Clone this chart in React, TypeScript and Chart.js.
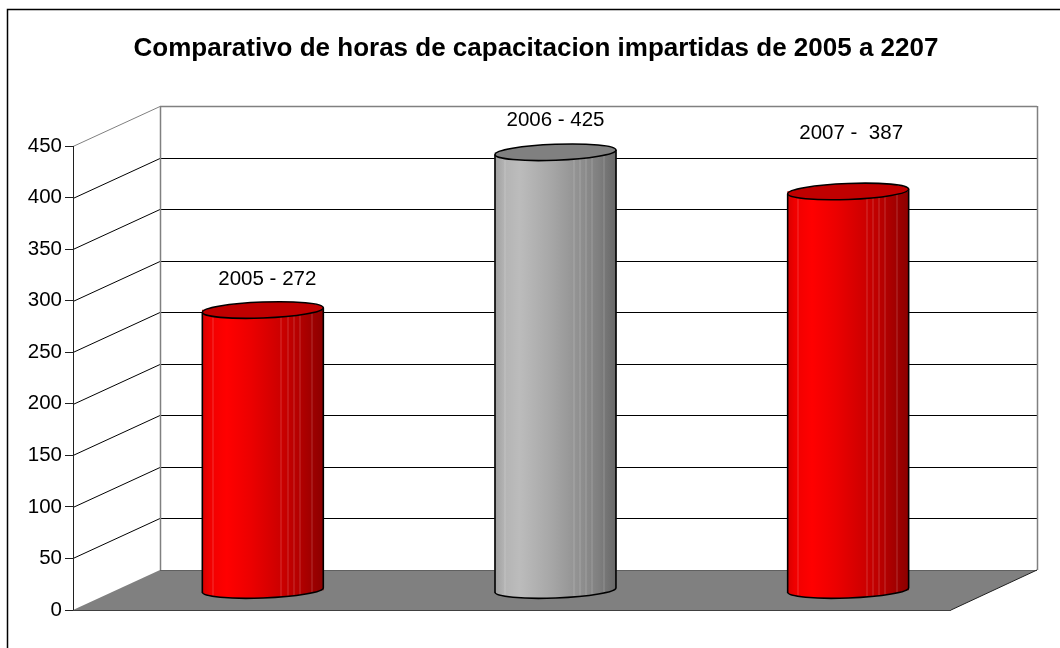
import React, { useEffect, useRef } from "react";
import { Chart, registerables } from "chart.js";

Chart.register(...registerables);

const categories = ["2005", "2006", "2007"];
const horas = [272, 425, 387];
const dataLabels = ["2005 - 272", "2006 - 425", "2007 -  387"];
const yTicksMax = 450;
const yTicksStep = 50;
const titleText = "Comparativo de horas de capacitacion impartidas de 2005 a 2207";

const FONT = "'Liberation Sans', Arial, sans-serif";
const DEPTH_X = 87;
const DEPTH_Y = -40;
const MID_X = DEPTH_X / 2;
const MID_Y = -19.5;
const BAR_W = 121;
const RY = 8;
const TILT = (-2.2 * Math.PI) / 180;
const FONT_SIZE = 20.5;
const TITLE_SIZE = 26;
const LABEL_SHIFT = [
  [4.5, -31],
  [0, -31.5],
  [3, -58],
];

const redRamp: [number, string][] = [
  [0, "#d80000"], [0.06, "#f00000"], [0.2, "#ff0000"], [0.4, "#ec0000"],
  [0.65, "#cc0000"], [0.8, "#b40000"], [1, "#8c0000"],
];
const grayRamp: [number, string][] = [
  [0, "#a0a0a0"], [0.08, "#b4b4b4"], [0.2, "#bcbcbc"], [0.45, "#a8a8a8"],
  [0.7, "#909090"], [0.85, "#808080"], [1, "#686868"],
];
const ramps = [redRamp, grayRamp, redRamp];
const capColors = ["#c00000", "#808080", "#c00000"];
const stripes = [0.08, 0.65, 0.7, 0.75, 0.8, 0.9];

function fillFor(ctx: CanvasRenderingContext2D, x: number, i: number) {
  const g = ctx.createLinearGradient(x - BAR_W / 2, 0, x + BAR_W / 2, 0);
  ramps[i].forEach(([p, c]) => g.addColorStop(p, c));
  return g;
}

const cylinders = {
  id: "cylinders",
  beforeDraw(chart: any) {
    const { ctx, width, height } = chart;
    ctx.save();
    ctx.strokeStyle = "#000";
    ctx.lineWidth = 1.5;
    ctx.beginPath();
    ctx.moveTo(7.5, height);
    ctx.lineTo(7.5, 9.5);
    ctx.lineTo(width, 9.5);
    ctx.stroke();
    ctx.restore();
  },
  beforeDatasetsDraw(chart: any) {
    const { ctx, chartArea: a, scales } = chart;
    const y = scales.y;
    const y0 = y.getPixelForValue(0);
    const yTop = y.getPixelForValue(yTicksMax);
    ctx.save();
    const seg = (x1: number, y1: number, x2: number, y2: number, c: string, w = 1) => {
      ctx.strokeStyle = c;
      ctx.lineWidth = w;
      ctx.beginPath();
      ctx.moveTo(x1, y1);
      ctx.lineTo(x2, y2);
      ctx.stroke();
    };
    // back wall + side wall
    const bl = a.left + DEPTH_X;
    const br = a.right + DEPTH_X - 1;
    for (let v = yTicksStep; v <= yTicksMax; v += yTicksStep) {
      const py = Math.round(y.getPixelForValue(v)) + 0.5;
      const top = v === yTicksMax;
      const c = top ? "#808080" : "#000";
      const by = py + DEPTH_Y;
      seg(a.left, py, bl, by, c);
      seg(bl, by, br, by, c, top ? 1.5 : 1);
    }
    const wb = y0 + DEPTH_Y;
    const wt = Math.round(yTop + DEPTH_Y);
    seg(bl + 0.5, wt, bl + 0.5, wb, "#808080", 1.5);
    seg(br + 0.5, wt, br + 0.5, wb, "#808080", 1.5);
    // floor
    ctx.fillStyle = "#808080";
    ctx.beginPath();
    ctx.moveTo(a.left, y0);
    ctx.lineTo(bl, wb);
    ctx.lineTo(br, wb);
    ctx.lineTo(a.right, y0);
    ctx.closePath();
    ctx.fill();
    seg(bl, wb + 0.5, br, wb + 0.5, "#606060");
    seg(a.left, y0 + 0.5, a.right, y0 + 0.5, "#404040");
    seg(a.right, y0, br, wb, "#202020");
    seg(a.left + 0.5, yTop, a.left + 0.5, y0, "#202020");
    ctx.restore();
    // bars are painted by the library at mid depth
    ctx.save();
    ctx.translate(MID_X, MID_Y);
  },
  afterDatasetsDraw(chart: any) {
    const { ctx } = chart;
    const meta = chart.getDatasetMeta(0);
    meta.data.forEach((bar: any, i: number) => {
      const rx = BAR_W / 2;
      const x = bar.x;
      // bottom half of the cylinder
      ctx.fillStyle = fillFor(ctx, x, i);
      ctx.beginPath();
      ctx.moveTo(x + rx, bar.base - 6);
      ctx.ellipse(x, bar.base, rx, RY, TILT, 0, Math.PI);
      ctx.lineTo(x - rx, bar.base - 6);
      ctx.closePath();
      ctx.fill();
      // light facet stripes
      ctx.strokeStyle = "rgba(255,255,255,0.2)";
      ctx.lineWidth = 1;
      stripes.forEach((f) => {
        const u = f * 2 - 1;
        const sx = Math.round(x - rx + f * BAR_W) + 0.5;
        ctx.beginPath();
        ctx.moveTo(sx, bar.y);
        ctx.lineTo(sx, bar.base + RY * Math.sqrt(1 - u * u) + u * rx * Math.sin(TILT));
        ctx.stroke();
      });
      // outline
      ctx.strokeStyle = "#000";
      ctx.lineWidth = 1.6;
      const dy = rx * Math.sin(TILT);
      ctx.beginPath();
      ctx.moveTo(x - rx, bar.y - dy);
      ctx.lineTo(x - rx, bar.base - dy);
      ctx.ellipse(x, bar.base, rx, RY, TILT, Math.PI, 0, true);
      ctx.lineTo(x + rx, bar.y + dy);
      ctx.stroke();
      // top cap
      ctx.fillStyle = capColors[i];
      ctx.beginPath();
      ctx.ellipse(x, bar.y, rx, RY, TILT, 0, Math.PI * 2);
      ctx.closePath();
      ctx.fill();
      ctx.stroke();
    });
    ctx.restore();
    // data labels
    ctx.save();
    ctx.fillStyle = "#000";
    ctx.font = `${FONT_SIZE}px ${FONT}`;
    ctx.textAlign = "center";
    ctx.textBaseline = "middle";
    meta.data.forEach((bar: any, i: number) => {
      ctx.fillText(
        dataLabels[i],
        bar.x + MID_X + LABEL_SHIFT[i][0],
        bar.y + MID_Y + LABEL_SHIFT[i][1]
      );
    });
    ctx.restore();
  },
};

export default function App() {
  const ref = useRef<HTMLCanvasElement>(null);
  useEffect(() => {
    const chart = new Chart(ref.current!, {
      type: "bar",
      data: {
        labels: categories,
        datasets: [
          {
            data: horas,
            barThickness: BAR_W,
            borderWidth: 0,
            clip: false,
            backgroundColor: (c: any) => {
              if (c.type !== "data") return "#ff0000";
              const x = c.chart.scales.x.getPixelForValue(c.dataIndex);
              if (!Number.isFinite(x)) return "#ff0000";
              return fillFor(c.chart.ctx, x, c.dataIndex);
            },
          } as any,
        ],
      },
      options: {
        animation: false,
        responsive: false,
        layout: { padding: { left: 12, right: 0, top: 0, bottom: 38 } },
        plugins: {
          legend: { display: false },
          tooltip: { enabled: false },
          title: {
            display: true,
            text: titleText,
            color: "#000",
            font: { family: FONT, size: TITLE_SIZE, weight: "bold", lineHeight: 1.2 },
            padding: { top: 33.4, bottom: 81.4 },
          },
        },
        scales: {
          x: { display: false },
          y: {
            min: 0,
            max: yTicksMax,
            position: "left",
            afterFit: (s: any) => {
              s.width = 61;
            },
            ticks: {
              stepSize: yTicksStep,
              color: "#000",
              padding: 3,
              font: { family: FONT, size: FONT_SIZE },
            },
            grid: { drawOnChartArea: false, drawTicks: true, tickLength: 8, color: "#202020" },
            border: { display: false },
          },
          y2: {
            position: "right",
            display: true,
            afterFit: (s: any) => {
              s.width = 109;
            },
            ticks: { display: false },
            grid: { display: false },
            border: { display: false },
          },
        },
      } as any,
      plugins: [cylinders],
    });
    return () => chart.destroy();
  }, []);
  return (
    <div style={{ position: "fixed", left: 0, top: 0, width: 1060, height: 648, overflow: "hidden", background: "#fff" }}>
      <canvas ref={ref} width={1060} height={648} style={{ display: "block" }} />
    </div>
  );
}
